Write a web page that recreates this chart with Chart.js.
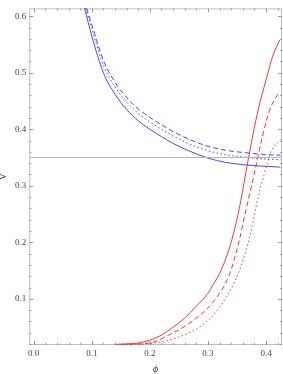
<!DOCTYPE html>
<html><head><meta charset="utf-8">
<script src="https://cdn.jsdelivr.net/npm/chart.js@4.4.1/dist/chart.umd.min.js"></script>
<style>html,body{margin:0;padding:0;background:#fff}canvas{display:block}</style>
</head><body>
<canvas id="c" width="283" height="374"></canvas>
<script>
// ---- data ----
const phiBlueSolid = [0.0876,0.10,0.12,0.14,0.16,0.18,0.20,0.22,0.24,0.26,0.28,0.30,0.33,0.36,0.39,0.425];
const vBlueSolid   = [0.614,0.565,0.500,0.462,0.435,0.415,0.400,0.387,0.375,0.365,0.3565,0.349,0.3415,0.3375,0.335,0.333];
const phiBlueDash  = [0.091,0.10,0.12,0.14,0.16,0.18,0.20,0.22,0.24,0.26,0.28,0.30,0.33,0.36,0.39,0.425];
const vBlueDash    = [0.614,0.585,0.522,0.483,0.456,0.436,0.421,0.408,0.396,0.386,0.377,0.370,0.363,0.359,0.356,0.354];
const phiBlueDot   = [0.0895,0.10,0.12,0.14,0.16,0.18,0.20,0.22,0.24,0.26,0.28,0.30,0.33,0.36,0.39,0.425];
const vBlueDot     = [0.614,0.578,0.513,0.475,0.448,0.428,0.413,0.400,0.388,0.378,0.369,0.362,0.355,0.351,0.348,0.346];

const phiRedSolid = [0.14,0.18,0.20,0.22,0.24,0.26,0.28,0.30,0.31,0.32,0.337,0.354,0.365,0.377,0.388,0.400,0.411,0.4235];
const vRedSolid   = [0.0195,0.022,0.027,0.036,0.050,0.066,0.087,0.110,0.127,0.145,0.190,0.260,0.322,0.388,0.441,0.487,0.528,0.558];
const phiRedDash  = [0.15,0.20,0.24,0.26,0.286,0.30,0.311,0.337,0.354,0.3654,0.3797,0.394,0.4055,0.415,0.4235];
const vRedDash    = [0.0195,0.022,0.040,0.051,0.071,0.084,0.097,0.143,0.204,0.257,0.321,0.388,0.432,0.453,0.466];
const phiRedDot   = [0.16,0.20,0.251,0.297,0.326,0.3545,0.3716,0.386,0.397,0.409,0.425];
const vRedDot     = [0.0195,0.021,0.033,0.059,0.094,0.151,0.209,0.278,0.321,0.361,0.382];

const vReference = 0.35;
const phiRange = [-0.0076, 0.4275];
const vRange = [0.0184, 0.6138];
const xTicks = [0.0,0.1,0.2,0.3,0.4];
const yTicks = [0.1,0.2,0.3,0.4,0.5,0.6];
const xLabel = 'ϕ';
const yLabel = 'V';

function pts(xs, ys){ return xs.map((x,i)=>({x:x, y:ys[i]})); }

const BLUE = 'rgba(60,60,255,0.95)';
const RED = 'rgba(255,40,40,0.95)';

function ds(data, color, dash){
  return {data:data, borderColor:color, borderWidth:1, borderDash:dash, pointRadius:0,
          showLine:true, fill:false, cubicInterpolationMode:'monotone', clip:2};
}

const framePlugin = {
  id:'frame',
  beforeDatasetsDraw(chart){
    const {ctx, chartArea:a, scales:{x, y}} = chart;
    ctx.save();
    ctx.strokeStyle = '#bdbdbd';
    ctx.lineWidth = 1;
    ctx.strokeRect(a.left+0.5, a.top+0.5, a.right-a.left-1, a.bottom-a.top-1);
    ctx.strokeStyle = '#999';
    ctx.beginPath();
    for (let k=-1; k<=22; k++){
      const v = Math.round(k*0.02*1000)/1000;
      if (v < phiRange[0] || v > phiRange[1]) continue;
      const px = Math.round(x.getPixelForValue(v))+0.5;
      const len = (k%5===0)?4:2;
      ctx.moveTo(px, a.bottom); ctx.lineTo(px, a.bottom-len);
      ctx.moveTo(px, a.top); ctx.lineTo(px, a.top+len);
    }
    for (let k=0; k<=31; k++){
      const v = Math.round(k*0.02*1000)/1000;
      if (v < vRange[0] || v > vRange[1]) continue;
      const py = Math.round(y.getPixelForValue(v))+0.5;
      const len = (k%5===0)?4:2;
      ctx.moveTo(a.left, py); ctx.lineTo(a.left+len, py);
      ctx.moveTo(a.right, py); ctx.lineTo(a.right-len, py);
    }
    ctx.stroke();
    ctx.restore();
  }
};

new Chart(document.getElementById('c'), {
  type:'scatter',
  data:{datasets:[
    ds(pts(phiRange, [vReference, vReference]), '#b4b4b4', []),
    ds(pts(phiBlueSolid, vBlueSolid), BLUE, []),
    ds(pts(phiBlueDash, vBlueDash), BLUE, [5,3]),
    ds(pts(phiBlueDot, vBlueDot), BLUE, [1.5,2.5]),
    ds(pts(phiRedSolid, vRedSolid), RED, []),
    ds(pts(phiRedDash, vRedDash), RED, [5,3]),
    ds(pts(phiRedDot, vRedDot), RED, [1.5,2.5])
  ]},
  options:{
    responsive:false, animation:false, devicePixelRatio:1,
    layout:{padding:{left:0,right:1,top:0,bottom:0}},
    plugins:{legend:{display:false}, tooltip:{enabled:false}},
    scales:{
      x:{type:'linear', min:phiRange[0], max:phiRange[1],
         grid:{display:false, drawTicks:false}, border:{display:false},
         afterBuildTicks(s){ s.ticks = xTicks.map(v=>({value:v})); },
         afterFit(s){ s.height = 29; },
         ticks:{padding:3, color:'#444', font:{family:'Liberation Serif', size:9},
                callback:v=>Number(v).toFixed(1), maxRotation:0, autoSkip:false},
         title:{display:true, text:xLabel, color:'#333', padding:{top:0,bottom:0},
                font:{family:'Liberation Serif', size:10, style:'italic', lineHeight:1.0}}},
      y:{type:'linear', min:vRange[0], max:vRange[1],
         grid:{display:false, drawTicks:false}, border:{display:false},
         afterBuildTicks(s){ s.ticks = yTicks.map(v=>({value:v})); },
         afterFit(s){ s.width = 29.3; },
         ticks:{padding:3, color:'#444', font:{family:'Liberation Serif', size:9},
                callback:v=>Number(v).toFixed(1), autoSkip:false},
         title:{display:true, text:yLabel, color:'#333', padding:{top:0,bottom:0},
                font:{family:'Liberation Serif', size:10, lineHeight:0.7}}}
    }
  },
  plugins:[framePlugin]
});
</script>
</body></html>
